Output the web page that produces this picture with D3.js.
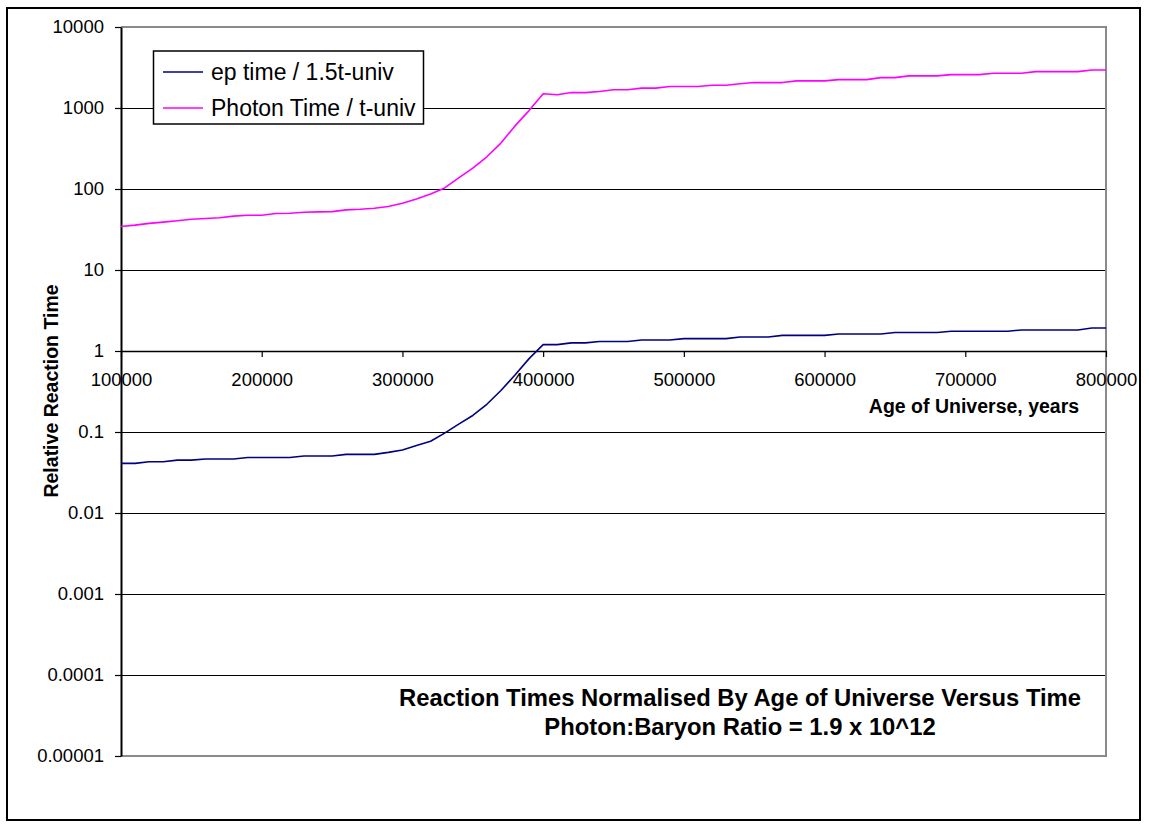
<!DOCTYPE html>
<html>
<head>
<meta charset="utf-8">
<script src="https://cdn.jsdelivr.net/npm/d3@7"></script>
<style>
  html, body { margin: 0; padding: 0; background: #fff; }
  svg { display: block; font-family: "Liberation Sans", Arial, sans-serif; }
</style>
</head>
<body>
<svg id="chart" width="1149" height="828"></svg>
<script>
// Age of universe (years), sampled every 10,000 years
const ages = [
  100000, 110000, 120000, 130000, 140000, 150000, 160000, 170000, 180000, 190000,
  200000, 210000, 220000, 230000, 240000, 250000, 260000, 270000, 280000, 290000,
  300000, 310000, 320000, 330000, 340000, 350000, 360000, 370000, 380000, 390000,
  400000, 410000, 420000, 430000, 440000, 450000, 460000, 470000, 480000, 490000,
  500000, 510000, 520000, 530000, 540000, 550000, 560000, 570000, 580000, 590000,
  600000, 610000, 620000, 630000, 640000, 650000, 660000, 670000, 680000, 690000,
  700000, 710000, 720000, 730000, 740000, 750000, 760000, 770000, 780000, 790000,
  800000
];

// e-p reaction time relative to 1.5 x age of universe
const epTime = [
  0.041, 0.041, 0.043, 0.043, 0.045, 0.045, 0.0465, 0.0465, 0.0465, 0.0485,
  0.0485, 0.0485, 0.0485, 0.0505, 0.0505, 0.0505, 0.053, 0.053, 0.053, 0.056,
  0.060, 0.068, 0.077, 0.097, 0.125, 0.16, 0.22, 0.325, 0.506, 0.805,
  1.2, 1.2, 1.26, 1.26, 1.31, 1.31, 1.31, 1.37, 1.37, 1.37,
  1.42, 1.42, 1.42, 1.42, 1.49, 1.49, 1.49, 1.56, 1.56, 1.56,
  1.56, 1.62, 1.62, 1.62, 1.62, 1.69, 1.69, 1.69, 1.69, 1.75,
  1.75, 1.75, 1.75, 1.75, 1.82, 1.82, 1.82, 1.82, 1.82, 1.92,
  1.92
];

// Photon reaction time relative to age of universe
const photonTime = [
  34.5, 35.8, 37.6, 39, 40.5, 42.4, 43.3, 44.1, 46.2, 47.5,
  47.5, 49.8, 50.2, 51.7, 52.2, 52.6, 55.2, 56.2, 57.9, 60.7,
  66.7, 75.4, 87, 103, 137, 181, 250, 369, 601, 929,
  1500, 1460, 1550, 1550, 1600, 1680, 1680, 1760, 1760, 1840,
  1840, 1840, 1910, 1910, 1990, 2060, 2060, 2060, 2160, 2160,
  2160, 2240, 2240, 2240, 2370, 2370, 2490, 2490, 2490, 2580,
  2580, 2580, 2690, 2690, 2690, 2810, 2810, 2810, 2810, 2950,
  2950
];

const seriesNames = ["ep time / 1.5t-univ", "Photon Time / t-univ"];
const seriesColors = ["#000080", "#ff00ff"];

const xTicks = [100000, 200000, 300000, 400000, 500000, 600000, 700000, 800000];
const yTicks = [1e-5, 1e-4, 1e-3, 1e-2, 1e-1, 1, 10, 100, 1000, 10000];
const yTickLabels = ["0.00001", "0.0001", "0.001", "0.01", "0.1", "1", "10", "100", "1000", "10000"];

const titleLines = [
  "Reaction Times Normalised By Age of Universe Versus Time",
  "Photon:Baryon Ratio = 1.9 x 10^12"
];
const xTitle = "Age of Universe, years";
const yTitle = "Relative Reaction Time";

const svg = d3.select("#chart");

// chart frame
svg.append("rect")
  .attr("x", 7).attr("y", 8).attr("width", 1133).attr("height", 812)
  .attr("fill", "#fff").attr("stroke", "#000").attr("stroke-width", 2);

const plot = { left: 121, right: 1106, top: 27, bottom: 756 };

const x = d3.scaleLinear().domain([100000, 800000]).range([plot.left, plot.right]);
const y = d3.scaleLog().domain([1e-5, 1e4]).range([plot.bottom, plot.top]);

// snap 1px lines to the pixel grid
const crisp = v => Math.round(v) + 0.5;

// horizontal gridlines at each decade
svg.append("g")
  .selectAll("line")
  .data(yTicks.filter(v => v > 1e-5 && v < 1e4))
  .join("line")
  .attr("x1", plot.left).attr("x2", plot.right)
  .attr("y1", d => crisp(y(d))).attr("y2", d => crisp(y(d)))
  .attr("stroke", "#000").attr("stroke-width", 1);

// plot area outline (top, right, bottom)
svg.append("path")
  .attr("d", `M${plot.left},${plot.top}H${plot.right}V${plot.bottom}H${plot.left}`)
  .attr("fill", "none").attr("stroke", "#8a8a8a").attr("stroke-width", 2);

// y axis
const yAxis = svg.append("g")
  .attr("transform", `translate(${plot.left},0)`)
  .call(d3.axisLeft(y)
    .tickValues(yTicks)
    .tickFormat((d, i) => yTickLabels[i])
    .tickSizeInner(6).tickSizeOuter(0).tickPadding(11));
yAxis.select(".domain").attr("stroke", "#000").attr("stroke-width", 2);
yAxis.selectAll(".tick line").attr("stroke", "#000").attr("stroke-width", 1.2);
yAxis.selectAll(".tick text")
  .attr("font-size", 18.5).attr("fill", "#000")
  .attr("font-family", "Liberation Sans, Arial, sans-serif");

// x axis crossing at y = 1
const xAxis = svg.append("g")
  .attr("transform", `translate(0,${y(1)})`)
  .call(d3.axisBottom(x)
    .tickValues(xTicks)
    .tickFormat(d3.format("d"))
    .tickSizeInner(6).tickSizeOuter(0).tickPadding(16));
xAxis.select(".domain").attr("stroke", "#000").attr("stroke-width", 1.5);
xAxis.selectAll(".tick line").attr("stroke", "#000").attr("stroke-width", 1.2);
xAxis.selectAll(".tick text")
  .attr("font-size", 18.5).attr("fill", "#000")
  .attr("font-family", "Liberation Sans, Arial, sans-serif");

// data lines
const series = [epTime, photonTime];
const line = d3.line()
  .x((d, i) => x(ages[i]))
  .y(d => y(d));

svg.append("g")
  .selectAll("path")
  .data(series)
  .join("path")
  .attr("d", d => line(d))
  .attr("fill", "none")
  .attr("stroke", (d, i) => seriesColors[i])
  .attr("stroke-width", 1.6)
  .attr("stroke-linejoin", "round");

// legend
const legend = svg.append("g");
legend.append("rect")
  .attr("x", 153.5).attr("y", 51).attr("width", 270).attr("height", 73)
  .attr("fill", "#fff").attr("stroke", "#000").attr("stroke-width", 1.5);
const legendRows = legend.selectAll("g.row")
  .data(seriesNames)
  .join("g")
  .attr("class", "row")
  .attr("transform", (d, i) => `translate(0,${72 + i * 36})`);
legendRows.append("line")
  .attr("x1", 163).attr("x2", 203).attr("y1", 0).attr("y2", 0)
  .attr("stroke", (d, i) => seriesColors[i]).attr("stroke-width", 1.6);
legendRows.append("text")
  .attr("x", 211).attr("y", 8)
  .attr("font-size", 23).attr("fill", "#000")
  .text(d => d);

// axis titles
svg.append("text")
  .attr("transform", "translate(58,391) rotate(-90)")
  .attr("text-anchor", "middle")
  .attr("font-size", 19.5).attr("font-weight", "bold")
  .text(yTitle);

svg.append("text")
  .attr("x", 974).attr("y", 413)
  .attr("text-anchor", "middle")
  .attr("font-size", 19.5).attr("font-weight", "bold")
  .text(xTitle);

// chart title inside the plot, lower right
svg.append("g")
  .selectAll("text")
  .data(titleLines)
  .join("text")
  .attr("x", 740)
  .attr("y", (d, i) => 706 + i * 29)
  .attr("text-anchor", "middle")
  .attr("font-size", 23.8).attr("font-weight", "bold")
  .text(d => d);
</script>
</body>
</html>
